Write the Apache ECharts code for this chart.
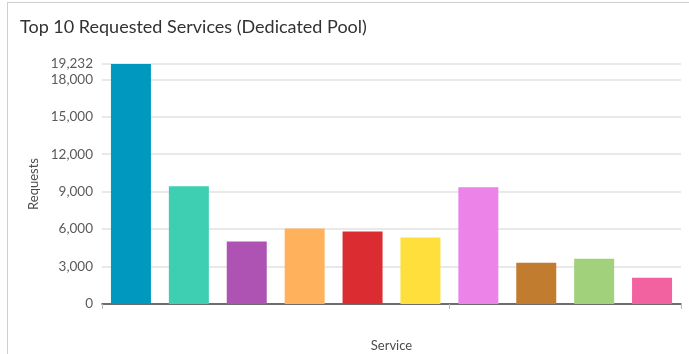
<!DOCTYPE html>
<html>
<head>
<meta charset="utf-8">
<script src="https://cdn.jsdelivr.net/npm/echarts@6/dist/echarts.min.js"></script>
<style>
  html, body { margin: 0; padding: 0; background: #fff; overflow: hidden; }
  #frame { position: absolute; left: 7px; top: 2px; width: 700px; height: 400px; border-left: 1px solid #cfcfcf; border-top: 1px solid #cfcfcf; }
  #chart { position: absolute; left: 0; top: 0; width: 689px; height: 354px; }
</style>
</head>
<body>
<div id="frame"></div>
<div id="chart"></div>
<script>
// data
const services = ['Service 1', 'Service 2', 'Service 3', 'Service 4', 'Service 5',
                  'Service 6', 'Service 7', 'Service 8', 'Service 9', 'Service 10'];
const requests = [19232, 9440, 5000, 6050, 5810, 5320, 9350, 3300, 3630, 2100];
const barColors = ['#0098bf', '#3ecfb2', '#ae53b3', '#ffb25b', '#db2c31',
                   '#ffdf3c', '#eb83e9', '#c27c30', '#a1d27b', '#f262a1'];

const chart = echarts.init(document.getElementById('chart'));
const font = 'Lato, "Open Sans", sans-serif';

chart.setOption({
    animation: false,
    title: {
        text: 'Top 10 Requested Services (Dedicated Pool)',
        left: 15,
        top: 13,
        textStyle: { fontFamily: font, fontSize: 18, fontWeight: 'normal', color: '#323232' }
    },
    grid: { left: 102, right: 8, top: 64, bottom: 50, outerBoundsMode: 'none', containLabel: false },
    xAxis: {
        type: 'category',
        data: services,
        name: 'Service',
        nameLocation: 'middle',
        nameGap: 35,
        nameTextStyle: { fontFamily: font, fontSize: 13, color: '#4c4c4c' },
        axisLine: { lineStyle: { color: '#444', width: 1.5 } },
        axisTick: {
            show: true,
            length: 5,
            interval: (i) => i === 0 || i === 6,
            lineStyle: { color: '#bbb' }
        },
        axisLabel: { show: false }
    },
    yAxis: {
        type: 'value',
        min: 0,
        max: 19232,
        interval: 3000,
        name: 'Requests',
        nameLocation: 'middle',
        nameGap: 60,
        nameTextStyle: { fontFamily: font, fontSize: 13, color: '#4c4c4c' },
        axisLine: { show: false },
        axisTick: { show: false },
        axisLabel: {
            fontFamily: font, fontSize: 13.5, color: '#5a5a5a', margin: 9,
            formatter: (v) => v.toLocaleString('en-US')
        },
        splitLine: { lineStyle: { color: '#e2e2e2', width: 1.5 } }
    },
    series: [{
        type: 'bar',
        barWidth: 40,
        data: requests.map((v, i) => ({ value: v, itemStyle: { color: barColors[i] } }))
    }]
});
</script>
</body>
</html>
